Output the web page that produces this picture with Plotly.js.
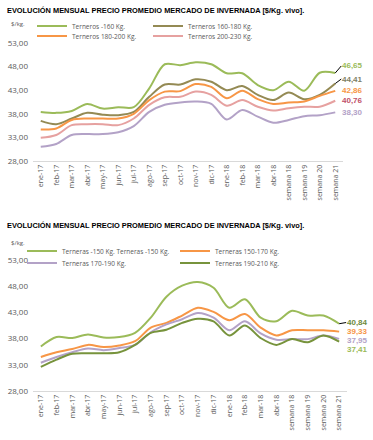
<!DOCTYPE html>
<html><head><meta charset="utf-8">
<script src="https://cdn.plot.ly/plotly-3.0.1.min.js"></script>
<style>html,body{margin:0;padding:0;background:#fff;overflow:hidden}</style>
</head><body>
<div id="c1" style="width:373px;height:215px"></div>
<div id="c2" style="width:373px;height:225px"></div>
<script>
const categories = ["ene-17","feb-17","mar-17","abr-17","may-17","jun-17","jul-17","ago-17","sep-17","oct-17","nov-17","dic-17","ene-18","feb-18","mar-18","abr-18","semana 18","semana 19","semana 20","semana 21"];

// Chart 1: Terneros
const terneros160 = [38.4, 38.2, 38.6, 40.1, 39.1, 39.4, 39.4, 43.4, 48.5, 48.3, 48.9, 48.5, 46.6, 46.6, 44.1, 43.0, 44.8, 42.9, 46.7, 46.65];
const terneros160_180 = [36.5, 35.8, 37.0, 38.2, 37.8, 37.7, 38.4, 41.6, 44.2, 44.2, 45.3, 44.8, 43.0, 43.9, 42.0, 40.9, 42.5, 41.1, 42.0, 44.41];
const terneros180_200 = [34.7, 34.9, 36.7, 37.0, 37.0, 37.0, 38.0, 40.9, 42.7, 42.8, 44.3, 43.7, 41.3, 42.9, 41.1, 40.1, 40.4, 40.6, 41.8, 42.86];
const terneros200_230 = [32.9, 33.5, 35.6, 35.8, 35.8, 35.6, 37.0, 39.9, 41.5, 41.6, 42.7, 42.0, 39.7, 40.9, 39.5, 38.7, 39.2, 39.5, 39.5, 40.76];
const terneros230 = [31.0, 31.6, 33.5, 33.7, 33.7, 34.1, 35.4, 38.4, 39.9, 40.4, 40.6, 40.1, 36.8, 38.8, 37.4, 36.1, 36.7, 37.5, 37.7, 38.30];

// Chart 2: Terneras
const terneras150 = [36.5, 38.3, 38.1, 38.8, 38.2, 38.3, 39.1, 42.0, 46.0, 48.1, 48.8, 47.7, 43.9, 45.5, 42.0, 41.3, 43.3, 42.4, 42.4, 40.84];
const terneras150_170 = [34.5, 35.4, 36.0, 36.8, 36.4, 36.7, 37.5, 40.1, 41.0, 42.4, 43.9, 43.1, 41.5, 42.7, 40.1, 38.6, 39.6, 39.6, 39.6, 39.33];
const terneras170_190 = [33.4, 34.5, 35.4, 36.1, 35.8, 36.2, 36.8, 39.2, 40.7, 41.7, 42.9, 42.0, 39.6, 41.3, 39.0, 37.8, 37.9, 37.9, 38.6, 37.95];
const terneras190_210 = [32.6, 34.0, 35.1, 35.2, 35.2, 35.4, 36.8, 39.1, 39.7, 41.0, 41.8, 41.3, 38.6, 40.5, 38.1, 36.8, 37.9, 37.3, 38.6, 37.41];

const names1 = ["Terneros -160 Kg.", "Terneros 160-180 Kg.", "Terneros 180-200 Kg.", "Terneros 200-230 Kg.", "Terneros +230 Kg."];
const names2 = ["Terneras -150 Kg. Terneras -150 Kg.", "Terneras 150-170 Kg.", "Terneras 170-190 Kg.", "Terneras 190-210 Kg."];
const yTicks = [28, 33, 38, 43, 48, 53];
const titleText = "EVOLUCIÓN MENSUAL PRECIO PROMEDIO MERCADO DE INVERNADA [$/Kg. vivo].";

const FONT = "Open Sans, sans-serif";
const LBL_FONT = "Liberation Sans, Arial, sans-serif";
const GRAY = "#595959";
function fmt(v){ return v.toFixed(2).replace('.', ','); }

function line(y, name, color, legend, show){
  return {x: categories, y: y, name: name, type: 'scatter', mode: 'lines',
    line: {color: color, width: 2, shape: 'spline', smoothing: 0.9},
    legend: legend, showlegend: show !== false, hoverinfo: 'skip'};
}
function leg(H, textX, rowY){
  return {orientation: 'h', xref: 'container', yref: 'container',
    x: (textX - 40) / 373, y: 1 - rowY / H, xanchor: 'left', yanchor: 'middle',
    bgcolor: 'rgba(0,0,0,0)', font: {family: FONT, size: 6.5, color: GRAY},
    itemwidth: 30, tracegroupgap: 0};
}
function endLabel(y, color, xs, ys, arrow){
  const a = {x: categories[categories.length-1], y: y, xref: 'x', yref: 'y',
    text: fmt(y), font: {family: LBL_FONT, size: 8, color: color, weight: 'bold'},
    xanchor: 'left', yanchor: 'middle', borderpad: 0};
  if (arrow){
    a.showarrow = true; a.ax = xs; a.ay = -ys; a.arrowhead = 0; a.arrowwidth = 1;
    a.arrowcolor = '#000'; a.standoff = 0; a.startstandoff = 0;
  } else {
    a.showarrow = false; a.xshift = xs; a.yshift = ys;
  }
  return a;
}
function baseLayout(H, t, b, r){
  return {
    width: 373, height: H, margin: {l: 33, r: r, t: t, b: b, pad: 0, autoexpand: false},
    paper_bgcolor: '#fff', plot_bgcolor: '#fff', separators: ',.',
    font: {family: FONT, color: GRAY},
    title: {text: titleText, xref: 'container', yref: 'container', x: 7/373, xanchor: 'left',
      y: 1 - 10/H, yanchor: 'middle', font: {family: LBL_FONT, size: 7.4, weight: 'bold', color: '#000'}},
    xaxis: {type: 'category', range: [-0.5, categories.length - 0.5], tickangle: -90,
      showgrid: false, zeroline: false, showline: true, linecolor: '#D9D9D9', linewidth: 1,
      ticks: '', tickfont: {family: FONT, size: 7, color: GRAY}, fixedrange: true, automargin: false},
    yaxis: {range: [28, 53], tickvals: yTicks, tickformat: '.2f', showgrid: false,
      zeroline: false, showline: false, ticks: '', tickfont: {family: FONT, size: 8, color: GRAY},
      ticklabelstandoff: 4, fixedrange: true, automargin: false},
    showlegend: true
  };
}

// ---- Chart 1
const H1 = 215;
const data1 = [
  line(terneros160, names1[0], '#9BBB59', 'legend'),
  line(terneros160_180, names1[1], '#948A54', 'legend2'),
  line(terneros180_200, names1[2], '#F79646', 'legend3'),
  line(terneros200_230, names1[3], '#E6A1A0', 'legend4'),
  line(terneros230, names1[4], '#B3A2C7', 'legend', false)
];
const L1 = baseLayout(H1, 43, 54, 30);
L1.legend = leg(H1, 72, 26);
L1.legend2 = leg(H1, 188, 26);
L1.legend3 = leg(H1, 72, 36);
L1.legend4 = leg(H1, 188, 36);
L1.annotations = [
  {text: '$/kg.', xref: 'paper', yref: 'paper', x: (9-33)/310, y: (161-24)/118, xanchor: 'left', yanchor: 'middle', showarrow: false, font: {family: FONT, size: 6, color: GRAY}},
  endLabel(terneros160[19], '#9BBB59', 6, 7, true),
  endLabel(terneros160_180[19], '#7F7F66', 6, 4.5, true),
  endLabel(terneros180_200[19], '#F79646', 6, 0, false),
  endLabel(terneros200_230[19], '#C0506A', 6, 0, false),
  endLabel(terneros230[19], '#B3A2C7', 6, 0, false)
];
Plotly.newPlot('c1', data1, L1, {displayModeBar: false, staticPlot: true});

// ---- Chart 2
const H2 = 225;
const data2 = [
  line(terneras150, names2[0], '#9BBB59', 'legend'),
  line(terneras150_170, names2[1], '#F79646', 'legend2'),
  line(terneras170_190, names2[2], '#B3A2C7', 'legend3'),
  line(terneras190_210, names2[3], '#77933C', 'legend4')
];
const L2 = baseLayout(H2, 45, 49, 26);
L2.legend = leg(H2, 62, 36);
L2.legend2 = leg(H2, 215, 36);
L2.legend3 = leg(H2, 62, 48);
L2.legend4 = leg(H2, 215, 48);
L2.annotations = [
  {text: '$/kg.', xref: 'paper', yref: 'paper', x: (9-33)/314, y: (176-28)/131, xanchor: 'left', yanchor: 'middle', showarrow: false, font: {family: FONT, size: 6, color: GRAY}},
  endLabel(terneras150[19], '#6E8B3D', 7, 1.2, true),
  endLabel(terneras150_170[19], '#F79646', 7, 0, false),
  endLabel(terneras170_190[19], '#B3A2C7', 7, -1.7, false),
  endLabel(terneras190_210[19], '#9BBB59', 7, -8, false)
];
Plotly.newPlot('c2', data2, L2, {displayModeBar: false, staticPlot: true});
</script>
</body></html>
